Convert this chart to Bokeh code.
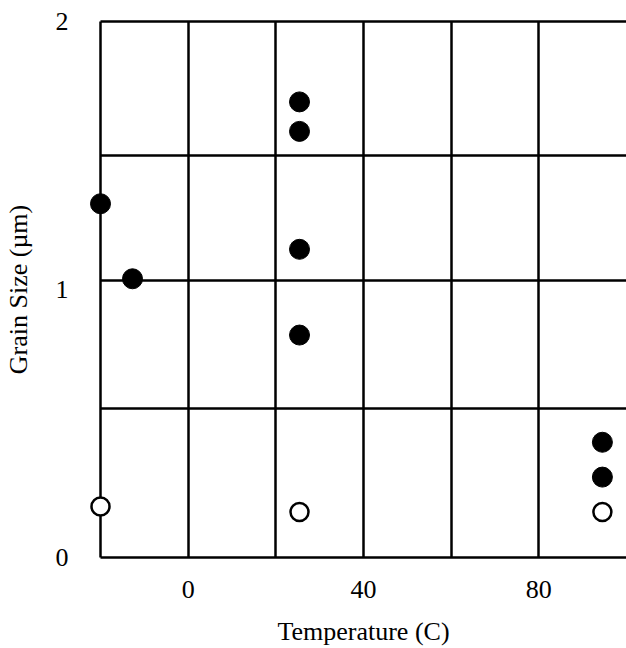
from bokeh.plotting import figure
from bokeh.models import Range1d, FixedTicker, LinearAxis
from bokeh.embed import file_html
from bokeh.resources import INLINE

# data
filled_temp = [-20, -12.7, 25.4, 25.4, 25.4, 25.4, 94.5, 94.5]
filled_size = [1.32, 1.04, 1.70, 1.59, 1.15, 0.83, 0.43, 0.30]
open_temp = [-20, 25.4, 94.5]
open_size = [0.19, 0.17, 0.17]
x_tick_labels = [0, 40, 80]
y_tick_labels = [0, 1, 2]
x_grid_lines = [0, 20, 40, 60, 80]
y_grid_lines = [0.556, 1.034, 1.5]

FONT = "Liberation Serif"

p = figure(width=626, height=648, output_backend="svg", toolbar_location=None,
           x_range=Range1d(-20, 100), y_range=Range1d(0, 2),
           min_border_left=99, min_border_right=0, min_border_top=21, min_border_bottom=91,
           x_axis_label="Temperature (C)", y_axis_label="Grain Size (\u00b5m)")
p.outline_line_color = None
p.background_fill_color = "white"
p.border_fill_color = "white"

for ax in (p.xaxis[0], p.yaxis[0]):
    ax.axis_line_color = "black"
    ax.axis_line_width = 2.5
    ax.major_tick_out = 0
    ax.major_tick_in = 0
    ax.minor_tick_out = 0
    ax.minor_tick_in = 0
    ax.major_label_text_font = FONT
    ax.major_label_text_font_size = "26px"
    ax.major_label_text_color = "black"
    ax.axis_label_text_font = FONT
    ax.axis_label_text_font_size = "26px"
    ax.axis_label_text_font_style = "normal"
    ax.axis_label_text_color = "black"

p.xaxis[0].ticker = FixedTicker(ticks=x_tick_labels)
p.yaxis[0].ticker = FixedTicker(ticks=y_tick_labels)
p.xaxis[0].major_label_standoff = 23
p.xaxis[0].axis_label_standoff = 16
p.yaxis[0].major_label_standoff = 32
p.yaxis[0].axis_label_standoff = 20

top = LinearAxis(ticker=FixedTicker(ticks=[]), axis_line_color="black", axis_line_width=2.5,
                 major_tick_out=0, minor_tick_out=0, major_label_text_font_size="0px")
p.add_layout(top, "above")

p.xgrid[0].ticker = FixedTicker(ticks=x_grid_lines)
p.ygrid[0].ticker = FixedTicker(ticks=y_grid_lines)
for g in (p.xgrid[0], p.ygrid[0]):
    g.grid_line_color = "black"
    g.grid_line_width = 2.5
    g.grid_line_alpha = 1.0

p.scatter(filled_temp, filled_size, size=20, fill_color="black", line_color="black", level="overlay")
p.scatter(open_temp, open_size, size=18, fill_color="white", line_color="black", line_width=2.5, level="overlay")

open("out.html", "w").write(file_html(p, INLINE))
